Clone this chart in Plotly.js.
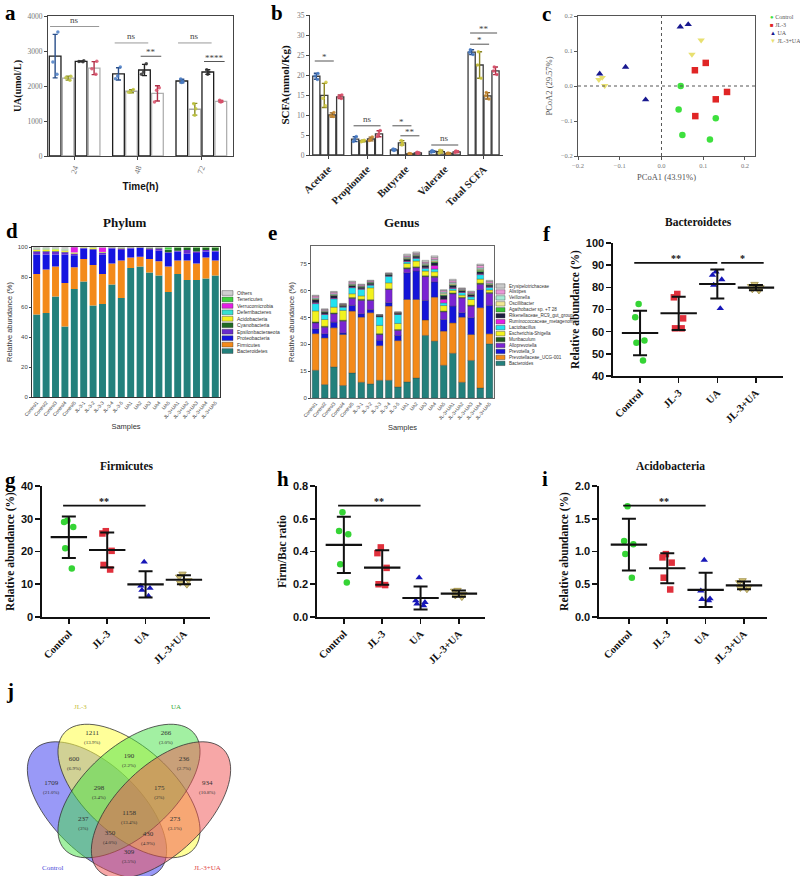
<!DOCTYPE html>
<html><head><meta charset="utf-8">
<script src="https://cdn.plot.ly/plotly-3.0.1.min.js"></script>
<style>body{margin:0;background:#fff}#chart{width:800px;height:876px}</style>
</head><body><div id="chart"></div>
<script>
// ================= DATA =================
const groups = ['Control', 'JL-3', 'UA', 'JL-3+UA'];

// (a) UA concentration, umol/L — three replicates per time point
const timeLabels = ['24', '48', '72'];
const uaRepControl = [[3543, 2686, 2333], [2543, 2286, 2210], [2200, 2130, 2100]];
const uaRepJL3 = [[2276, 2162, 2238], [1900, 1830, 1820], [1495, 1352, 1162]];
const uaRepUA = [[2720, 2700, 2690], [2638, 2400, 2333], [2467, 2400, 2333]];
const uaRepJL3UA = [[2705, 2495, 2333], [1952, 1876, 1543], [1590, 1560, 1540]];

// (b) SCFA, mmol/Kg — three replicates per acid
const scfaLabels = ['Acetate', 'Propionate', 'Butyrate', 'Valerate', 'Total SCFA'];
const scfaRepControl = [[20.4, 19.75, 18.9], [4.6, 3.9, 3.4], [1.5, 1.3, 1.1], [1.1, 0.9, 0.7], [26.3, 25.7, 25.1]];
const scfaRepJL3 = [[18.2, 14.2, 12.3], [3.7, 3.5, 3.3], [3.6, 3.0, 2.5], [1.2, 0.8, 0.5], [25.8, 22.5, 19.2]];
const scfaRepUA = [[10.6, 9.8, 9.6], [4.5, 3.9, 3.6], [0.4, 0.3, 0.2], [0.5, 0.4, 0.3], [15.6, 14.8, 14.0]];
const scfaRepJL3UA = [[15.0, 14.5, 14.1], [6.1, 5.2, 4.6], [0.7, 0.5, 0.4], [1.0, 0.8, 0.6], [22.0, 21.0, 20.1]];

// (c) PCoA
const pcoaControlX = [0.046, 0.041, 0.130, 0.050, 0.116];
const pcoaControlY = [0.000, -0.067, -0.092, -0.140, -0.153];
const pcoaJL3X = [0.106, 0.080, 0.157, 0.130, 0.081];
const pcoaJL3Y = [0.066, 0.045, -0.017, -0.038, -0.086];
const pcoaUAX = [0.045, 0.064, -0.086, -0.148, -0.038];
const pcoaUAY = [0.169, 0.176, 0.054, 0.035, -0.039];
const pcoaJL3UAX = [0.095, 0.073, -0.142, -0.150, -0.136];
const pcoaJL3UAY = [0.131, 0.090, 0.024, 0.018, 0.001];

// (d) Phylum relative abundance (%), stacked bottom -> top
const sampleNames = ['Control1','Control2','Control3','Control4','Control5',
  'JL-3-1','JL-3-2','JL-3-3','JL-3-4','JL-3-5',
  'UA1','UA2','UA3','UA4','UA5',
  'JL-3+UA1','JL-3+UA2','JL-3+UA3','JL-3+UA4','JL-3+UA5'];
const phylumNames = ['Bacteroidetes','Firmicutes','Proteobacteria','Epsilonbacteraeota','Cyanobacteria',
  'Acidobacteria','Deferribacteres','Verrucomicrobia','Tenericutes','Others'];
const phBacteroidetes = [55, 56, 67, 47, 72, 77, 61, 62, 75, 66, 86, 87, 83, 81, 70, 82, 78, 78, 79, 81];
const phFirmicutes = [27, 29, 20, 29, 14.5, 15, 27, 20, 14, 25, 7, 6.5, 9, 9.5, 17, 9, 13, 11, 14, 10];
const phProteobacteria = [13, 10, 8, 19, 8, 7, 10, 13, 10, 7, 6, 6, 6, 7, 9, 6, 4.5, 7, 4, 6];
const phEpsilon = [2, 2, 2, 1.5, 1, 0.3, 0.5, 1, 0.5, 1, 0.5, 0.2, 1, 1.5, 0.5, 0.5, 2.5, 1, 1, 0.5];
const phCyanobacteria = [0.3, 0.3, 0.3, 0.3, 0.2, 0.2, 0.3, 0.3, 0.2, 0.2, 0.2, 0.1, 0.3, 0.3, 1.5, 2, 1.5, 2.5, 1.5, 2];
const phAcidobacteria = [1, 1.1, 1.2, 0.9, 0.6, 0.3, 0.8, 0.3, 0.1, 0.3, 0.1, 0.1, 0.2, 0.2, 0.1, 0.1, 0.1, 0.1, 0.1, 0.1];
const phDeferribacteres = [0.2, 0.2, 0.2, 0.2, 0.1, 0, 0.1, 0.1, 0, 0.1, 0, 0, 0.1, 0.1, 0.1, 0, 0, 0, 0, 0];
const phVerrucomicrobia = [0.2, 0.1, 0.1, 0.1, 3.5, 0, 0.1, 3, 0, 0.1, 0, 0, 0.1, 0.1, 0.1, 0, 0, 0, 0, 0];
const phTenericutes = [0.3, 0.3, 0.2, 0.3, 0.1, 0, 0.1, 0.1, 0, 0.1, 0, 0, 0.1, 0.1, 1.5, 0.3, 0.3, 0.3, 0.3, 0.3];
const phOthers = [1, 1, 1, 1.7, 0, 0.2, 0.1, 0.2, 0.2, 0.2, 0.2, 0.1, 0.2, 0.2, 0.2, 0.1, 0.1, 0.1, 0.1, 0.1];

// (e) Genus relative abundance (%), stacked bottom -> top
const genusNames = ['Bacteroides','Prevotellaceae_UCG-001','Prevotella_9','Alloprevotella','Muribaculum',
  'Escherichia-Shigella','Lactobacillus','Ruminococcaceae_metagenome','Rikenellaceae_RC9_gut_group',
  'Agathobacter sp. +T 28','Oscillibacter','Veillonella','Alistipes','Erysipelotrichaceae'];
const gBacteroides = [15.5, 7.5, 17.4, 7, 14, 8.8, 7.9, 9.9, 9.9, 6.2, 9, 11.2, 35, 31.8, 18.3, 25, 8.8, 21, 5.6, 30.3];
const gPrevUCG = [20.5, 26.1, 21.9, 28.5, 34.6, 36.4, 39.8, 19.4, 41.5, 25.9, 46.1, 43.9, 8.6, 24.6, 19.1, 17, 36.4, 14.5, 44.9, 5.6];
const gPrevotella = [2.7, 2.3, 3.1, 0.9, 3.2, 1.9, 1.8, 3, 1.9, 2.9, 14.9, 15.9, 11, 8.5, 6.5, 9.4, 2.5, 9.4, 10.2, 15.9];
const gAlloprevotella = [3.3, 3.7, 4.7, 6.6, 3.9, 7.5, 5.1, 3.2, 7.4, 2.8, 2.3, 1.9, 13.3, 2.6, 4.3, 6.9, 8.2, 6.5, 2.9, 6.7];
const gMuribaculum = [0.6, 0.5, 0.5, 0.5, 0.5, 0.6, 0.4, 0.5, 0.4, 0.5, 0.6, 0.5, 0.5, 0.6, 0.4, 0.5, 0.4, 0.5, 0.6, 0.5];
const gEscherichia = [6.1, 3.8, 3.2, 5.5, 2.1, 1.9, 6.6, 4.6, 3.3, 3.4, 2.3, 3.2, 2.6, 2.5, 3.1, 1.4, 1.2, 3.2, 2.3, 1.4];
const gLactobacillus = [4.1, 2.8, 4.7, 1.8, 3.4, 3.7, 1.5, 4.8, 3.7, 5, 1, 1.5, 1.5, 1.5, 1.5, 1, 1.5, 1.5, 2.5, 1.5];
const gRuminococcaceae = [0.5, 0.3, 0.4, 0.3, 0.3, 0.3, 0.3, 0.2, 0.2, 0.2, 0.4, 0.3, 0.4, 2, 2, 0.5, 0.3, 0.3, 0.4, 0.3];
const gRikenellaceae = [1.5, 1, 1.2, 0.5, 0.8, 0.8, 0.7, 0.3, 0.5, 0.4, 1, 0.9, 1.1, 1.5, 2, 1.2, 0.6, 0.8, 1.2, 0.9];
const gAgathobacter = [0.3, 0.2, 0.3, 0.2, 0.3, 0.2, 0.2, 0.1, 0.1, 0.1, 0.3, 0.3, 0.3, 0.5, 0.5, 0.4, 0.2, 0.2, 0.8, 0.3];
const gOscillibacter = [0.3, 0.3, 0.3, 0.2, 0.4, 0.3, 0.3, 0.1, 0.2, 0.1, 0.4, 0.3, 0.4, 0.6, 0.8, 0.6, 0.3, 0.3, 0.6, 0.4];
const gVeillonella = [0.6, 0.4, 0.5, 0.3, 0.4, 0.3, 0.3, 0.2, 0.3, 0.2, 0.5, 0.4, 0.6, 0.8, 0.8, 0.7, 0.4, 0.4, 0.8, 0.5];
const gAlistipes = [1, 0.6, 0.9, 0.3, 0.9, 0.6, 0.6, 0.2, 0.3, 0.3, 0.7, 0.6, 0.7, 1, 0.8, 1, 0.4, 0.7, 1.3, 0.9];
const gErysipelo = [0.5, 0.4, 0.5, 0.3, 0.6, 0.4, 0.4, 0.2, 0.3, 0.2, 1, 0.8, 1, 1, 0.5, 0.8, 0.4, 0.5, 0.8, 0.6];

// (f) Bacteroidetes (%)
const bactControl = [72.5, 66.5, 56, 55, 47];
const bactJL3 = [77, 75.5, 66, 61.5, 61.5];
const bactUA = [87, 85.5, 83.5, 81, 70.5];
const bactJL3UA = [81.5, 80.5, 80, 79, 78.5];
// (g) Firmicutes (%)
const firmControl = [29.5, 29, 27.5, 21, 14.8];
const firmJL3 = [26.2, 25.5, 20.2, 15.9, 14.5];
const firmUA = [16.8, 9.5, 8.8, 6.4, 8.2];
const firmJL3UA = [13.2, 12.3, 11.2, 9.8, 10.4];
// (h) Firm/Bac ratio
const ratioControl = [0.64, 0.525, 0.505, 0.322, 0.21];
const ratioJL3 = [0.425, 0.39, 0.30, 0.20, 0.195];
const ratioUA = [0.24, 0.10, 0.09, 0.08, 0.07];
const ratioJL3UA = [0.165, 0.16, 0.14, 0.13, 0.12];
// (i) Acidobacteria (%)
const acidControl = [1.69, 1.16, 1.11, 0.96, 0.60];
const acidJL3 = [0.96, 0.91, 0.83, 0.60, 0.42];
const acidUA = [0.87, 0.40, 0.28, 0.25, 0.27];
const acidJL3UA = [0.56, 0.53, 0.46, 0.42, 0.44];

// (j) Venn counts
const vennCounts = [1709, 1211, 266, 934, 600, 190, 236, 298, 175, 1158, 237, 273, 350, 430, 309];
const vennPct = ['21.0%', '13.9%', '3.0%', '10.8%', '6.9%', '2.2%', '2.7%', '3.4%', '2%', '13.4%', '3%', '3.1%', '4.0%', '4.9%', '3.5%'];

// ================= HELPERS =================
const W = 800, H = 876;
const px = x => x / W, py = y => 1 - y / H;
const dom = (x1, x2, y1, y2) => ({ x: [px(x1), px(x2)], y: [py(y2), py(y1)] });
const SERIF = 'Liberation Serif, Times New Roman, serif';
const SANS = 'Liberation Sans, Arial, sans-serif';
const mean = a => a.reduce((s, v) => s + v, 0) / a.length;
const sd = a => { const m = mean(a); return Math.sqrt(a.reduce((s, v) => s + (v - m) * (v - m), 0) / (a.length - 1)); };
const traces = [], shapes = [], annotations = [];
const layout = {
  width: W, height: H, margin: { l: 0, r: 0, t: 0, b: 0 },
  paper_bgcolor: '#fff', plot_bgcolor: 'rgba(0,0,0,0)',
  showlegend: false, barmode: 'group', bargap: 0.18, bargroupgap: 0.1,
  boxmode: 'group', boxgap: 0.18, boxgroupgap: 0.1,
  font: { family: SANS, color: '#222' }
};
function panelLabel(t, x, y) {
  annotations.push({ xref: 'paper', yref: 'paper', x: px(x), y: py(y), text: '<b>' + t + '</b>', showarrow: false,
    font: { family: SERIF, size: 21, color: '#000' }, xanchor: 'center', yanchor: 'middle' });
}
function paperText(t, x, y, font, xa) {
  annotations.push({ xref: 'paper', yref: 'paper', x: px(x), y: py(y), text: t, showarrow: false, font: font,
    xanchor: xa || 'center', yanchor: 'middle' });
}
// grouped bars (mean ± SD) with replicate points
function groupedBars(xa, ya, cats, reps, lineCols, ptCols, errCols, tag) {
  reps.forEach((rep, i) => {
    traces.push({ type: 'bar', name: groups[i], x: cats, y: rep.map(mean), xaxis: xa, yaxis: ya,
      offsetgroup: tag + i, alignmentgroup: tag,
      marker: { color: '#ffffff', line: { color: lineCols[i], width: 1.3 } },
      error_y: { type: 'data', array: rep.map(sd), color: errCols[i], thickness: 1.4, width: 2.5 } });
    const xs = [], ys = [];
    rep.forEach((vals, c) => vals.forEach(v => { xs.push(cats[c]); ys.push(v); }));
    traces.push({ type: 'box', name: groups[i], x: xs, y: ys, xaxis: xa, yaxis: ya, offsetgroup: tag + i, alignmentgroup: tag,
      boxpoints: 'all', jitter: 0.6, pointpos: 0, fillcolor: 'rgba(0,0,0,0)', line: { color: 'rgba(0,0,0,0)', width: 0 },
      whiskerwidth: 0, hoverinfo: 'skip', marker: { size: 3.5, color: ptCols[i], opacity: 0.85 } });
  });
}
const off4 = [-0.3075, -0.1025, 0.1025, 0.3075];
function sigGroup(xa, ya, g, i1, i2, y, t, col, ext, fsize) {
  const x1 = g + off4[i1] - ext, x2 = g + off4[i2] + ext;
  shapes.push({ type: 'line', xref: xa, yref: ya, x0: x1, x1: x2, y0: y, y1: y, line: { color: col, width: 1 } });
  annotations.push({ xref: xa, yref: ya, x: (x1 + x2) / 2, y: y, text: t, showarrow: false, yanchor: 'bottom',
    yshift: t.indexOf('*') >= 0 ? -3 : 0, font: { family: SERIF, size: fsize, color: '#444' } });
}

// ================= (a) =================
groupedBars('x', 'y', timeLabels, [uaRepControl, uaRepJL3, uaRepUA, uaRepJL3UA],
  ['#1e1e1e', '#a8a8a8', '#1e1e1e', '#b0b0b0'], ['#4a7cc4', '#c0c440', '#333333', '#d8506a'],
  ['#2a4f8a', '#8a8e20', '#222222', '#b03048'], 'a');
const dA = dom(48, 233, 16, 156);
layout.xaxis = { domain: dA.x, anchor: 'y', type: 'category', range: [-0.42, 2.5], showline: true, mirror: true,
  linecolor: '#444', linewidth: 1, ticks: 'outside', ticklen: 3, tickcolor: '#444', tickangle: -70,
  tickfont: { family: SERIF, size: 8, color: '#777' },
  title: { text: 'Time(h)', font: { family: SANS, size: 10, color: '#111', weight: 'bold' }, standoff: 8 } };
layout.yaxis = { domain: dA.y, anchor: 'x', range: [0, 4000], dtick: 1000, showline: true, mirror: true,
  linecolor: '#444', linewidth: 1, ticks: 'outside', ticklen: 3, tickcolor: '#444', showgrid: false, zeroline: false,
  tickfont: { family: SERIF, size: 7.5, color: '#777' },
  title: { text: 'UA(umol/L)', font: { family: SERIF, size: 10, color: '#111', weight: 'bold' }, standoff: 4 } };
sigGroup('x', 'y', 0, 0, 3, 3700, 'ns', '#999', 0.08, 9);
sigGroup('x', 'y', 1, 0, 2, 3230, 'ns', '#999', 0.06, 9);
sigGroup('x', 'y', 1, 2, 3, 2850, '**', '#555', 0.06, 9);
sigGroup('x', 'y', 2, 0, 2, 3230, 'ns', '#999', 0.06, 9);
sigGroup('x', 'y', 2, 2, 3, 2700, '****', '#555', 0.06, 9);

// ================= (b) =================
groupedBars('x2', 'y2', scfaLabels, [scfaRepControl, scfaRepJL3, scfaRepUA, scfaRepJL3UA],
  ['#3a3a3a', '#3a3a3a', '#3a3a3a', '#3a3a3a'], ['#4a7cc4', '#d0c840', '#c88a30', '#d8506a'],
  ['#2a4f8a', '#8a8420', '#8a5a18', '#b03048'], 'b');
const dB = dom(310, 503, 15, 155);
layout.xaxis2 = { domain: dB.x, anchor: 'y2', type: 'category', range: [-0.47, 4.5], showline: true,
  linecolor: '#444', linewidth: 1, ticks: 'outside', ticklen: 3, tickcolor: '#444', tickangle: -45,
  tickfont: { family: SERIF, size: 10.5, color: '#222', weight: 'bold' } };
layout.yaxis2 = { domain: dB.y, anchor: 'x2', range: [0, 35], dtick: 5, showline: true, linecolor: '#444',
  linewidth: 1, ticks: 'outside', ticklen: 3, tickcolor: '#444', showgrid: false, zeroline: false,
  tickfont: { family: SERIF, size: 7.5, color: '#777' },
  title: { text: 'SCFA(mmol/Kg)', font: { family: SERIF, size: 11, color: '#111', weight: 'bold' }, standoff: 5 } };
sigGroup('x2', 'y2', 0, 0, 2, 23.5, '*', '#555', 0.04, 9);
sigGroup('x2', 'y2', 1, 0, 3, 7.3, 'ns', '#555', 0.04, 9);
sigGroup('x2', 'y2', 2, 0, 2, 7.3, '*', '#555', 0.04, 9);
sigGroup('x2', 'y2', 2, 1, 3, 4.8, '**', '#555', 0.04, 9);
sigGroup('x2', 'y2', 3, 0, 3, 2.5, 'ns', '#555', 0.04, 9);
sigGroup('x2', 'y2', 4, 0, 2, 27.7, '*', '#555', 0.04, 9);
sigGroup('x2', 'y2', 4, 0, 3, 30.5, '**', '#555', 0.04, 9);

// ================= (c) =================
const pcoaCols = ['#3ee03e', '#e02525', '#18188f', '#e8e070'];
const pcoaSyms = ['circle', 'square', 'triangle-up', 'triangle-down'];
const pcoaX = [pcoaControlX, pcoaJL3X, pcoaUAX, pcoaJL3UAX];
const pcoaY = [pcoaControlY, pcoaJL3Y, pcoaUAY, pcoaJL3UAY];
pcoaX.forEach((xs, i) => traces.push({
  type: 'scatter', mode: 'markers', name: groups[i], x: xs, y: pcoaY[i], xaxis: 'x3', yaxis: 'y3',
  marker: { color: pcoaCols[i], symbol: pcoaSyms[i], size: 6.5, line: { width: 0 } }
}));
const dC = dom(578, 755, 16, 156);
layout.xaxis3 = { domain: dC.x, anchor: 'y3', range: [-0.2, 0.224], tickvals: [-0.2, -0.1, 0, 0.1, 0.2], tickformat: '.1f',
  showline: true, mirror: true, linecolor: '#555', linewidth: 1, ticks: 'outside', ticklen: 3, tickcolor: '#555',
  showgrid: false, zeroline: false, tickfont: { family: SERIF, size: 6.5, color: '#777' },
  title: { text: 'PCoA1 (43.91%)', font: { family: SERIF, size: 8.5, color: '#555' }, standoff: 6 } };
layout.yaxis3 = { domain: dC.y, anchor: 'x3', range: [-0.2, 0.2], tickvals: [-0.2, -0.1, 0, 0.1, 0.2], tickformat: '.1f',
  showline: true, mirror: true, linecolor: '#555', linewidth: 1, ticks: 'outside', ticklen: 3, tickcolor: '#555',
  showgrid: false, zeroline: false, tickfont: { family: SERIF, size: 6.5, color: '#777' },
  title: { text: 'PCoA2 (29.57%)', font: { family: SERIF, size: 8.5, color: '#555' }, standoff: 6 } };
shapes.push({ type: 'line', xref: 'x3', yref: 'y3', x0: -0.2, x1: 0.224, y0: 0, y1: 0, line: { color: '#555', width: 1, dash: 'dot' } });
shapes.push({ type: 'line', xref: 'x3', yref: 'y3', x0: 0, x1: 0, y0: -0.2, y1: 0.2, line: { color: '#555', width: 1, dash: 'dot' } });
const legSym = ['●', '■', '▲', '▼'];
groups.forEach((g, i) => paperText('<span style="color:' + pcoaCols[i] + '">' + legSym[i] + '</span> ' + g,
  768, 17 + i * 8, { family: SERIF, size: 6, color: '#555' }, 'left'));

// ================= (d) Phylum =================
const phylumSeries = [phBacteroidetes, phFirmicutes, phProteobacteria, phEpsilon, phCyanobacteria,
  phAcidobacteria, phDeferribacteres, phVerrucomicrobia, phTenericutes, phOthers];
const phylumColors = ['#23807c', '#f38a1a', '#1414e0', '#6a2ccc', '#1f6a22', '#f2f21e', '#36e0d0', '#e41ee4', '#3ed23e', '#cfcfcf'];
let cumD = sampleNames.map(() => 0);
phylumSeries.forEach((s, k) => {
  traces.push({ type: 'bar', name: phylumNames[k], x: sampleNames, y: s, base: cumD.slice(), offsetgroup: 'phy',
    xaxis: 'x4', yaxis: 'y4', marker: { color: phylumColors[k], line: { width: 0 } } });
  cumD = cumD.map((c, j) => c + s[j]);
});
const dD = dom(32, 220, 247, 397);
layout.xaxis4 = { domain: dD.x, anchor: 'y4', type: 'category', showline: true, mirror: true, linecolor: '#333',
  linewidth: 1, ticks: '', tickangle: -50, tickfont: { family: SANS, size: 4.8, color: '#333' },
  title: { text: 'Samples', font: { family: SANS, size: 7.5, color: '#333' }, standoff: 4 } };
layout.yaxis4 = { domain: dD.y, anchor: 'x4', range: [0, 100], dtick: 20, showline: true, mirror: true,
  linecolor: '#333', linewidth: 1, ticks: 'outside', ticklen: 2, showgrid: false, zeroline: false,
  tickfont: { family: SANS, size: 6, color: '#444' },
  title: { text: 'Relative abundance (%)', font: { family: SANS, size: 7.5, color: '#333' }, standoff: 4 } };
paperText('<b>Phylum</b>', 125, 222, { family: SERIF, size: 13, color: '#111' });
for (let r = 0; r < phylumNames.length; r++) {
  const k = phylumNames.length - 1 - r;
  const yc = 293 + r * 6.45;
  shapes.push({ type: 'rect', xref: 'paper', yref: 'paper', x0: px(222), x1: px(233), y0: py(yc + 2.4), y1: py(yc - 2.4),
    fillcolor: phylumColors[k], line: { color: '#333', width: 0.4 } });
  paperText(phylumNames[k], 235, yc, { family: SANS, size: 5, color: '#333' }, 'left');
}

// ================= (e) Genus =================
const genusSeries = [gBacteroides, gPrevUCG, gPrevotella, gAlloprevotella, gMuribaculum, gEscherichia, gLactobacillus,
  gRuminococcaceae, gRikenellaceae, gAgathobacter, gOscillibacter, gVeillonella, gAlistipes, gErysipelo];
const genusColors = ['#23807c', '#f38a1a', '#1414d8', '#7a24d2', '#1e5a1e', '#f2f21e', '#22e2f0', '#e41ee4',
  '#1e1e40', '#36c436', '#f2e892', '#a6ead4', '#eb96d6', '#cacaca'];
let cumE = sampleNames.map(() => 0);
genusSeries.forEach((s, k) => {
  traces.push({ type: 'bar', name: genusNames[k], x: sampleNames, y: s, base: cumE.slice(), offsetgroup: 'gen',
    xaxis: 'x5', yaxis: 'y5', marker: { color: genusColors[k], line: { width: 0.3, color: '#333' } } });
  cumE = cumE.map((c, j) => c + s[j]);
});
const dE = dom(311, 494, 246, 398);
layout.xaxis5 = { domain: dE.x, anchor: 'y5', type: 'category', showline: true, mirror: true, linecolor: '#666',
  linewidth: 1, ticks: '', tickangle: -50, tickfont: { family: SANS, size: 4.8, color: '#333' },
  title: { text: 'Samples', font: { family: SANS, size: 7.5, color: '#333' }, standoff: 4 } };
layout.yaxis5 = { domain: dE.y, anchor: 'x5', range: [0, 85], tickvals: [0, 15, 30, 45, 60, 75], showline: true, mirror: true,
  linecolor: '#666', linewidth: 1, ticks: 'outside', ticklen: 2, showgrid: false, zeroline: false,
  tickfont: { family: SANS, size: 6, color: '#444' },
  title: { text: 'Relative abundance (%)', font: { family: SANS, size: 7.5, color: '#333' }, standoff: 4 } };
paperText('<b>Genus</b>', 402, 222, { family: SERIF, size: 13, color: '#111' });
for (let r = 0; r < genusNames.length; r++) {
  const k = genusNames.length - 1 - r;
  const yc = 286 + r * 5.95;
  shapes.push({ type: 'rect', xref: 'paper', yref: 'paper', x0: px(496), x1: px(505), y0: py(yc + 2.2), y1: py(yc - 2.2),
    fillcolor: genusColors[k], line: { color: '#333', width: 0.4 } });
  paperText(genusNames[k], 507, yc, { family: SANS, size: 4.6, color: '#333' }, 'left');
}

// ================= (f)-(i) dot plots =================
const dotCols = ['#35d435', '#e0303c', '#1717b8', '#d6c67a'];
const dotSyms = ['circle', 'square', 'triangle-up', 'triangle-down'];
function dotPanel(n, data, box, yopts, yTitle, title, titlePos, sig) {
  const xa = 'x' + n, ya = 'y' + n;
  data.forEach((arr, i) => traces.push({
    type: 'box', name: groups[i], x: arr.map(() => groups[i]), y: arr, xaxis: xa, yaxis: ya,
    offsetgroup: 'dot' + n, alignmentgroup: 'dot' + n,
    boxpoints: 'all', jitter: 0.4, pointpos: 0, fillcolor: 'rgba(0,0,0,0)', line: { color: 'rgba(0,0,0,0)', width: 0 },
    whiskerwidth: 0, hoverinfo: 'skip',
    marker: { symbol: dotSyms[i], size: 6.5, color: dotCols[i], line: { width: i === 3 ? 0.8 : 0, color: '#9a8a40' } }
  }));
  traces.push({ type: 'scatter', mode: 'markers', x: groups, y: data.map(mean), xaxis: xa, yaxis: ya,
    marker: { symbol: 'line-ew', size: 26, color: '#111', line: { width: 2.2, color: '#111' } },
    error_y: { type: 'data', array: data.map(sd), color: '#111', thickness: 2, width: 7 } });
  const d = dom(box[0], box[1], box[2], box[3]);
  layout['xaxis' + n] = { domain: d.x, anchor: ya, type: 'category', categoryorder: 'array', categoryarray: groups,
    range: box[4], showline: true, linecolor: '#111', linewidth: 1.6, ticks: 'outside', ticklen: 5, tickwidth: 1.6,
    tickcolor: '#111', tickangle: -45, showgrid: false, zeroline: false,
    tickfont: { family: SERIF, size: 10.5, color: '#111', weight: 'bold' } };
  layout['yaxis' + n] = Object.assign({ domain: d.y, anchor: xa, showline: true, linecolor: '#111', linewidth: 1.6,
    ticks: 'outside', ticklen: 5, tickwidth: 1.6, tickcolor: '#111', showgrid: false, zeroline: false,
    tickfont: { family: SANS, size: 11, color: '#111', weight: 'bold' },
    title: { text: yTitle, font: { family: SERIF, size: 11.5, color: '#111', weight: 'bold' }, standoff: 4 } }, yopts);
  if (title) paperText('<b>' + title + '</b>', titlePos[0], titlePos[1], { family: SERIF, size: 11.5, color: '#111' });
  sig.forEach(s => {
    shapes.push({ type: 'line', xref: xa, yref: ya, x0: s[0], x1: s[1], y0: s[2], y1: s[2], line: { color: '#111', width: 1.8 } });
    annotations.push({ xref: xa, yref: ya, x: (s[0] + s[1]) / 2, y: s[2], text: '<b>' + s[3] + '</b>', showarrow: false,
      yanchor: 'bottom', yshift: -3, font: { family: SERIF, size: 10, color: '#111' } });
  });
}
dotPanel(6, [bactControl, bactJL3, bactUA, bactJL3UA], [613, 783, 243, 376, [-0.7, 3.7]],
  { range: [40, 100], dtick: 10 }, 'Relative abundance (%)', 'Bacteroidetes', [698, 222],
  [[-0.15, 2.0, 91, '**'], [2.1, 3.2, 91, '*']]);
dotPanel(7, [firmControl, firmJL3, firmUA, firmJL3UA], [42, 210, 486, 617, [-0.7, 3.68]],
  { range: [0, 40], dtick: 10 }, 'Relative abundance (%)', 'Firmicutes', [127, 466],
  [[-0.15, 2.0, 34, '**']]);
dotPanel(8, [ratioControl, ratioJL3, ratioUA, ratioJL3UA], [317, 485, 486, 617, [-0.7, 3.68]],
  { range: [0, 0.8], dtick: 0.2, tickformat: '.1f' }, 'Firm/Bac ratio', null, null,
  [[-0.15, 2.0, 0.68, '**']]);
dotPanel(9, [acidControl, acidJL3, acidUA, acidJL3UA], [599, 767, 486, 617, [-0.78, 3.6]],
  { range: [0, 2], dtick: 0.5, tickformat: '.1f' }, 'Relative abundance (%)', 'Acidobacteria', [670, 466],
  [[-0.15, 2.0, 1.70, '**']]);

// ================= (j) Venn =================
layout.xaxis10 = { domain: [0, 260 / W], anchor: 'y10', range: [0, 260], visible: false };
layout.yaxis10 = { domain: [0, 196 / H], anchor: 'x10', range: [876, 680], visible: false };
function ellipsePath(cx, cy, a, b, deg) {
  const t = deg * Math.PI / 180; let d = '';
  for (let k = 0; k <= 80; k++) {
    const u = 2 * Math.PI * k / 80;
    const x = cx + a * Math.cos(u) * Math.cos(t) - b * Math.sin(u) * Math.sin(t);
    const y = cy + a * Math.cos(u) * Math.sin(t) + b * Math.sin(u) * Math.cos(t);
    d += (k ? 'L' : 'M') + x.toFixed(2) + ',' + y.toFixed(2);
  }
  return d + 'Z';
}
const vennSets = [
  { c: [97, 810], ang: 44, fill: 'rgba(70,70,240,0.55)' },
  { c: [129, 791], ang: 42, fill: 'rgba(255,255,70,0.55)' },
  { c: [129, 791], ang: -42, fill: 'rgba(70,225,70,0.5)' },
  { c: [161, 810], ang: -44, fill: 'rgba(240,80,80,0.5)' }
];
vennSets.forEach(s => shapes.push({ type: 'path', xref: 'x10', yref: 'y10', path: ellipsePath(s.c[0], s.c[1], 87, 44, s.ang),
  fillcolor: s.fill, line: { color: '#333', width: 0.8 } }));
const vennPos = [[51, 787], [92, 737], [166, 737], [207, 787], [74, 763], [129, 760], [184, 763], [99, 792], [159, 792],
  [129, 817], [83, 823], [175, 823], [110, 837], [148, 838], [129, 856]];
vennCounts.forEach((c, i) => annotations.push({ xref: 'x10', yref: 'y10', x: vennPos[i][0], y: vennPos[i][1],
  text: c + '<br><span style="font-size:5px">(' + vennPct[i] + ')</span>', showarrow: false,
  font: { family: SERIF, size: 7, color: '#333' } }));
const setLabels = [['Control', 52, 868, '#4848d8'], ['JL-3', 80, 707, '#c8c040'], ['UA', 176, 707, '#3aa83a'], ['JL-3+UA', 207, 868, '#e04848']];
setLabels.forEach(s => annotations.push({ xref: 'x10', yref: 'y10', x: s[1], y: s[2], text: s[0], showarrow: false,
  font: { family: SERIF, size: 7, color: s[3] } }));

// ================= panel letters =================
panelLabel('a', 10, 13); panelLabel('b', 277, 13); panelLabel('c', 546, 14);
panelLabel('d', 12, 231); panelLabel('e', 272, 233); panelLabel('f', 547, 234);
panelLabel('g', 10, 480); panelLabel('h', 283, 479); panelLabel('i', 545, 479);
panelLabel('j', 10, 691);

layout.shapes = shapes;
layout.annotations = annotations;
Plotly.newPlot('chart', traces, layout, { staticPlot: true, displayModeBar: false });
</script>
</body></html>
